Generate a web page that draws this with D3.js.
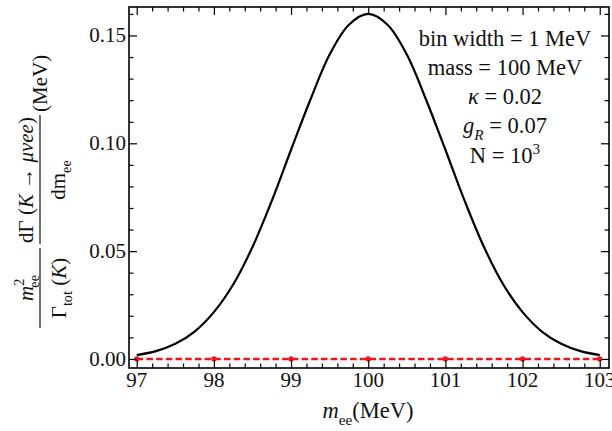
<!DOCTYPE html>
<html><head><meta charset="utf-8">
<script src="https://cdn.jsdelivr.net/npm/d3@7"></script>
<style>body{margin:0;background:#fff}svg{display:block}text{font-family:"Liberation Serif","DejaVu Serif",serif;fill:#111}</style>
</head><body>
<script>
// data
const mee = [97,97.25,97.5,97.75,98,98.25,98.5,98.75,99,99.25,99.5,99.75,100,100.25,100.5,100.75,101,101.25,101.5,101.75,102,102.25,102.5,102.75,103];
const rate = [0.0018,0.0036,0.0070,0.0127,0.0217,0.0345,0.0519,0.0733,0.0970,0.1202,0.1412,0.1550,0.1600,0.1550,0.1412,0.1202,0.0970,0.0733,0.0519,0.0345,0.0217,0.0127,0.0070,0.0036,0.0018];
const bgX = [97,98,99,100,101,102,103];
const bgY = [0,0,0,0,0,0,0];
const xTicks = [97,98,99,100,101,102,103];
const yTicks = [0,0.05,0.10,0.15];
const yTickLabels = ["0.00","0.05","0.10","0.15"];

const W=612,H=431;
const m={l:129,r:3,t:7,b:63};
const svg=d3.select("body").append("svg").attr("width",W).attr("height",H);
const x=d3.scaleLinear().domain([96.9,103.12]).range([m.l,W-m.r]);
const y=d3.scaleLinear().domain([-0.0042,0.1632]).range([H-m.b,m.t]);

const g=svg.append("g");
// dashed red line
g.append("path").datum(d3.zip(bgX,bgY))
 .attr("d",d3.line().x(d=>x(d[0])).y(d=>y(d[1])))
 .attr("fill","none").attr("stroke","#f0141e").attr("stroke-width",2.5).attr("stroke-dasharray","6.5,3.2");
g.selectAll("circle.bg").data(d3.zip(bgX,bgY)).enter().append("circle")
 .attr("cx",d=>x(d[0])).attr("cy",d=>y(d[1])).attr("r",2.6).attr("fill","#f0141e");
// main curve
g.append("path").datum(d3.zip(mee,rate))
 .attr("d",d3.line().x(d=>x(d[0])).y(d=>y(d[1])).curve(d3.curveCatmullRom))
 .attr("fill","none").attr("stroke","#000").attr("stroke-width",2.2);

// frame
svg.append("rect").attr("x",m.l).attr("y",m.t).attr("width",W-m.r-m.l).attr("height",H-m.b-m.t)
 .attr("fill","none").attr("stroke","#000").attr("stroke-width",1.6);

// ticks
const xMinor=d3.range(97,103.01,0.2).filter(v=>Math.abs(v-Math.round(v))>1e-6);
const yMinor=d3.range(0,0.1631,0.01).filter(v=>Math.abs(v*20-Math.round(v*20))>1e-6);
function ticksBottomTop(axisFn, ypos, major, minor){
  svg.append("g").attr("transform",`translate(0,${ypos})`).call(axisFn(x).tickValues(major).tickSize(-8).tickFormat(""))
   .call(a=>a.select(".domain").remove());
  svg.append("g").attr("transform",`translate(0,${ypos})`).call(axisFn(x).tickValues(minor).tickSize(-4.5).tickFormat(""))
   .call(a=>a.select(".domain").remove());
}
ticksBottomTop(d3.axisBottom,H-m.b,xTicks,xMinor);
ticksBottomTop(d3.axisTop,m.t,xTicks,xMinor);
function ticksLR(axisFn,xpos,major,minor){
  svg.append("g").attr("transform",`translate(${xpos},0)`).call(axisFn(y).tickValues(major).tickSize(-8).tickFormat(""))
   .call(a=>a.select(".domain").remove());
  svg.append("g").attr("transform",`translate(${xpos},0)`).call(axisFn(y).tickValues(minor).tickSize(-4.5).tickFormat(""))
   .call(a=>a.select(".domain").remove());
}
ticksLR(d3.axisLeft,m.l,yTicks,yMinor);
ticksLR(d3.axisRight,W-m.r,yTicks,yMinor);
svg.selectAll(".tick line").attr("stroke","#000").attr("stroke-width",1.2);

// tick labels
svg.append("g").selectAll("text").data(xTicks).enter().append("text")
 .attr("x",d=>x(d)).attr("y",387).attr("text-anchor","middle").attr("font-size",21).text(d=>d);
svg.append("g").selectAll("text").data(yTicks).enter().append("text")
 .attr("x",m.l-3).attr("y",d=>y(d)+7).attr("text-anchor","end").attr("font-size",21).text((d,i)=>yTickLabels[i]);

// rich text helper
function rich(sel, parts, fs){
  const t=sel.append("text").attr("font-size",fs);
  let cur=0;
  parts.forEach(p=>{
    const s=t.append("tspan").text(p.t);
    if(p.i) s.attr("font-style","italic");
    const shift = p.sub? fs*0.3 : p.sup? -fs*0.42 : 0;
    s.attr("dy",shift-cur); cur=shift;
    if(p.sub||p.sup) s.attr("font-size",fs*0.68);
    if(p.dx) s.attr("dx",p.dx);
  });
  return t;
}

// x label
rich(svg.append("g").attr("transform","translate(368,418)"),
 [{t:"m",i:1},{t:"ee",sub:1},{t:"(MeV)"}],22.5).attr("text-anchor","middle");

// annotation box
const ann=svg.append("g").attr("transform","translate(505,0)");
const fsA=22.5;
rich(ann.append("g").attr("transform","translate(0,46)"),[{t:"bin width = 1 MeV"}],fsA).attr("text-anchor","middle");
rich(ann.append("g").attr("transform","translate(0,75)"),[{t:"mass = 100 MeV"}],fsA).attr("text-anchor","middle");
rich(ann.append("g").attr("transform","translate(0,104)"),[{t:"κ",i:1},{t:" = 0.02"}],fsA).attr("text-anchor","middle");
rich(ann.append("g").attr("transform","translate(0,133)"),[{t:"g",i:1},{t:"R",i:1,sub:1},{t:" = 0.07"}],fsA).attr("text-anchor","middle");
rich(ann.append("g").attr("transform","translate(0,163)"),[{t:"N = 10"},{t:"3",sup:1}],fsA).attr("text-anchor","middle");

// y label (rotated)
const yl=svg.append("g").attr("transform","translate(40,187) rotate(-90)");
// fraction 1
yl.append("line").attr("x1",-141).attr("x2",-61).attr("y1",0).attr("y2",0).attr("stroke","#111").attr("stroke-width",1.2);
rich(yl.append("g").attr("transform","translate(-101,-7)"),[{t:"m",i:1},{t:"2",sup:1},{t:"ee",sub:1,dx:-9}],21).attr("text-anchor","middle");
rich(yl.append("g").attr("transform","translate(-101,26)"),[{t:"Γ"},{t:"tot",sub:1},{t:" ("},{t:"K",i:1},{t:")"}],21).attr("text-anchor","middle");
// fraction 2
yl.append("line").attr("x1",-57).attr("x2",72).attr("y1",0).attr("y2",0).attr("stroke","#111").attr("stroke-width",1.2);
rich(yl.append("g").attr("transform","translate(7,-7)"),[{t:"dΓ ("},{t:"K",i:1},{t:" → "},{t:"μνee",i:1},{t:")"}],21).attr("text-anchor","middle");
rich(yl.append("g").attr("transform","translate(7,25)"),[{t:"dm"},{t:"ee",sub:1}],21).attr("text-anchor","middle");
rich(yl.append("g").attr("transform","translate(75,7)"),[{t:"(MeV)"}],21);
</script>
</body></html>
